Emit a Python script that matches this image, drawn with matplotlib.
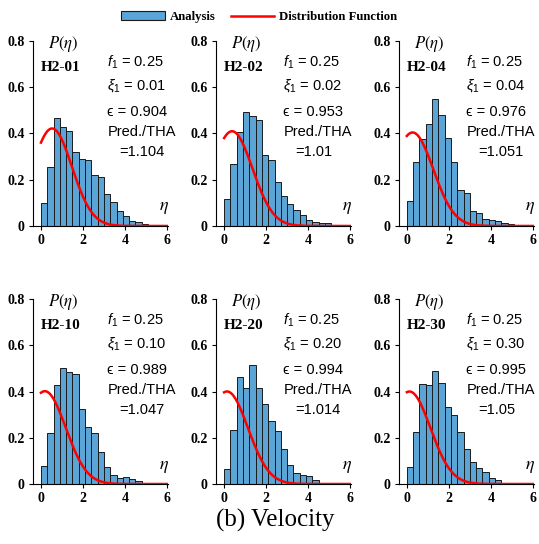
import math
import numpy as np
import matplotlib
matplotlib.use("Agg")
import matplotlib.pyplot as plt
from matplotlib.patches import Patch
from matplotlib.lines import Line2D

# panel labels and parameters
cases = ["H2-01", "H2-02", "H2-04", "H2-10", "H2-20", "H2-30"]
f1_vals = ["0.25", "0.25", "0.25", "0.25", "0.25", "0.25"]
xi1_vals = ["0.01", "0.02", "0.04", "0.10", "0.20", "0.30"]
eps_vals = [0.904, 0.953, 0.976, 0.989, 0.994, 0.995]
ratio_vals = ["1.104", "1.01", "1.051", "1.047", "1.014", "1.05"]

# histogram heights (bin width 0.3 starting at 0)
bin_width = 0.3
hist_01 = [0.098, 0.254, 0.465, 0.427, 0.412, 0.319, 0.291, 0.284, 0.220, 0.212,
           0.137, 0.102, 0.066, 0.043, 0.022, 0.016, 0.010, 0.006]
hist_02 = [0.116, 0.269, 0.407, 0.493, 0.476, 0.460, 0.307, 0.284, 0.190, 0.130,
           0.094, 0.067, 0.048, 0.026, 0.019, 0.012, 0.012]
hist_04 = [0.106, 0.275, 0.376, 0.440, 0.550, 0.480, 0.379, 0.278, 0.155, 0.142,
           0.065, 0.054, 0.032, 0.026, 0.022, 0.014, 0.010, 0.006]
hist_10 = [0.076, 0.219, 0.430, 0.501, 0.483, 0.474, 0.324, 0.246, 0.220, 0.137,
           0.074, 0.039, 0.027, 0.030, 0.023, 0.014, 0.006]
hist_20 = [0.063, 0.234, 0.463, 0.417, 0.513, 0.416, 0.347, 0.271, 0.231, 0.151,
           0.083, 0.047, 0.037, 0.034, 0.017, 0.006, 0.003]
hist_30 = [0.073, 0.227, 0.433, 0.427, 0.487, 0.439, 0.334, 0.300, 0.223, 0.150,
           0.093, 0.069, 0.050, 0.024, 0.016, 0.006]
hists = [hist_01, hist_02, hist_04, hist_10, hist_20, hist_30]

bar_color = "#5ba4d6"
serif = "Liberation Serif"
sans = "Liberation Sans"

plt.rcParams["mathtext.fontset"] = "custom"
plt.rcParams["mathtext.rm"] = sans
plt.rcParams["mathtext.it"] = sans + ":italic"


def peak_pdf(eta, eps):
    # Cartwright & Longuet-Higgins distribution of maxima
    erf = np.vectorize(math.erf)
    s = math.sqrt(1 - eps ** 2)
    phi = 0.5 * (1 + erf(eta * s / eps / math.sqrt(2)))
    return (eps / math.sqrt(2 * math.pi) * np.exp(-eta ** 2 / (2 * eps ** 2))
            + s * eta * np.exp(-eta ** 2 / 2) * phi)


fig = plt.figure(figsize=(5.39, 5.44), dpi=100)

lefts = [0.0612, 0.401, 0.740]
bottoms = [0.5846, 0.1103]
text_x = [3.16, 2.82, 2.84]
eq_x = [3.73, 3.40, 3.41]
eta = np.linspace(0, 6, 300)
fs = 10.5
txt = dict(family=[sans, "DejaVu Sans"], fontsize=fs, va="center")

for i in range(6):
    r, c = divmod(i, 3)
    ax = fig.add_axes([lefts[c], bottoms[r], 0.2505, 0.340])
    h = hists[i]
    x = np.arange(len(h)) * bin_width
    ax.bar(x, h, width=bin_width, align="edge", color=bar_color,
           edgecolor="#1a1a1a", linewidth=0.7, zorder=2)
    ax.plot(eta, peak_pdf(eta, eps_vals[i]), color="red", lw=1.8, zorder=3)

    ax.set_xlim(-0.38, 6.05)
    ax.set_ylim(0, 0.8)
    ax.set_xticks([0, 2, 4, 6])
    ax.set_yticks([0, 0.2, 0.4, 0.6, 0.8])
    ax.set_yticklabels(["0", "0.2", "0.4", "0.6", "0.8"])
    for lab in ax.get_xticklabels() + ax.get_yticklabels():
        lab.set_fontfamily(serif)
        lab.set_fontweight("bold")
        lab.set_fontsize(10)
    ax.tick_params(axis="both", direction="out", length=3, width=0.8, pad=3)
    ax.spines["top"].set_visible(False)
    ax.spines["right"].set_visible(False)

    tx = text_x[c]
    ax.text(1.05, 0.788, r"$P(\eta)$", math_fontfamily="stix", fontsize=12,
            ha="center", va="center")
    ax.text(0.95, 0.684, cases[i], family=serif, fontweight="bold", fontsize=11,
            ha="center", va="center")
    ax.text(tx - 0.03, 0.71, r"$f_1$ = " + f1_vals[i], **txt)
    ax.text(tx - 0.03, 0.606, r"$\xi_1$ = " + xi1_vals[i], **txt)
    ax.text(tx, 0.494, "\u03f5 = " + f"{eps_vals[i]:g}", **txt)
    ax.text(tx, 0.407, "Pred./THA", **txt)
    ax.text(eq_x[c], 0.32, "=" + ratio_vals[i], **txt)
    ax.text(5.85, 0.08, r"$\eta$", math_fontfamily="stix", fontsize=13,
            ha="center", va="center")

handles = [Patch(facecolor=bar_color, edgecolor="#1a1a1a", linewidth=0.8),
           Line2D([0], [0], color="red", lw=1.8)]
fig.legend(handles, ["Analysis", "Distribution Function"], loc="center",
           bbox_to_anchor=(0.481, 0.968), ncol=2, frameon=False,
           prop={"family": serif, "weight": "bold", "size": 9.2},
           handlelength=3.4, columnspacing=1.2, handletextpad=0.4)

fig.text(0.51, 0.043, "(b) Velocity", family=serif, fontsize=18,
         ha="center", va="center")

fig.savefig("out.png", dpi=100)
